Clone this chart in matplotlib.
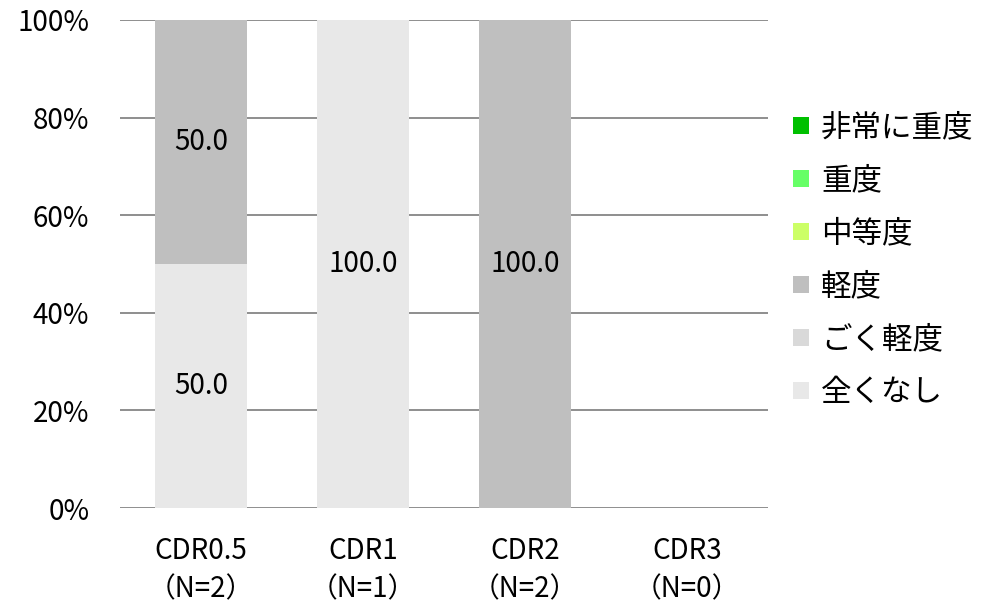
import numpy as np
import matplotlib
matplotlib.use('Agg')
import matplotlib.pyplot as plt

plt.rcParams['font.family'] = ['Noto Sans CJK JP', 'DejaVu Sans']

# data
categories = ['CDR0.5\n（N=2）', 'CDR1\n（N=1）', 'CDR2\n（N=2）', 'CDR3\n（N=0）']
levels = ['全くなし', 'ごく軽度', '軽度', '中等度', '重度', '非常に重度']
values = {
    '全くなし': [50.0, 100.0, 0.0, 0.0],
    'ごく軽度': [0.0, 0.0, 0.0, 0.0],
    '軽度': [50.0, 0.0, 100.0, 0.0],
    '中等度': [0.0, 0.0, 0.0, 0.0],
    '重度': [0.0, 0.0, 0.0, 0.0],
    '非常に重度': [0.0, 0.0, 0.0, 0.0],
}
colors = {
    '全くなし': '#E8E8E8',
    'ごく軽度': '#D9D9D9',
    '軽度': '#BFBFBF',
    '中等度': '#CCFF66',
    '重度': '#66FF66',
    '非常に重度': '#00C000',
}

fs = 20

fig = plt.figure(figsize=(9.87, 6.05), dpi=100)
ax = fig.add_axes([0.1216, 0.1603, 0.6565, 0.8067])

x = np.arange(len(categories))
bottom = np.zeros(len(categories))
handles = []
for lv in levels:
    v = np.array(values[lv])
    b = ax.bar(x, v, 0.57, bottom=bottom, color=colors[lv], label=lv, zorder=2)
    handles.append(b)
    for xi, vi, bi in zip(x, v, bottom):
        if vi > 0:
            ax.text(xi, bi + vi / 2, f'{vi:.1f}', ha='center', va='center', fontsize=fs, zorder=3)
    bottom += v

ax.set_xlim(-0.5, len(categories) - 0.5)
ax.set_ylim(0, 100)
ax.set_yticks(np.arange(0, 101, 20))
ax.set_yticklabels([f'{t}%' for t in range(0, 101, 20)], fontsize=fs)
ax.set_xticks(x)
ax.set_xticklabels(categories, fontsize=fs, linespacing=1.38)
ax.yaxis.grid(True, color='#868686', linewidth=1.3, zorder=1)
ax.tick_params(axis='y', length=0, pad=22)
ax.tick_params(axis='x', length=0, pad=20)
for s in ['top', 'right', 'left', 'bottom']:
    ax.spines[s].set_visible(False)

leg = fig.legend(handles[::-1], levels[::-1], loc='center left', bbox_to_anchor=(0.776, 0.570),
                 frameon=False, fontsize=22, handlelength=0.5, handleheight=0.5,
                 handletextpad=0.4, labelspacing=0.72)

plt.savefig('out.png', dpi=100)
